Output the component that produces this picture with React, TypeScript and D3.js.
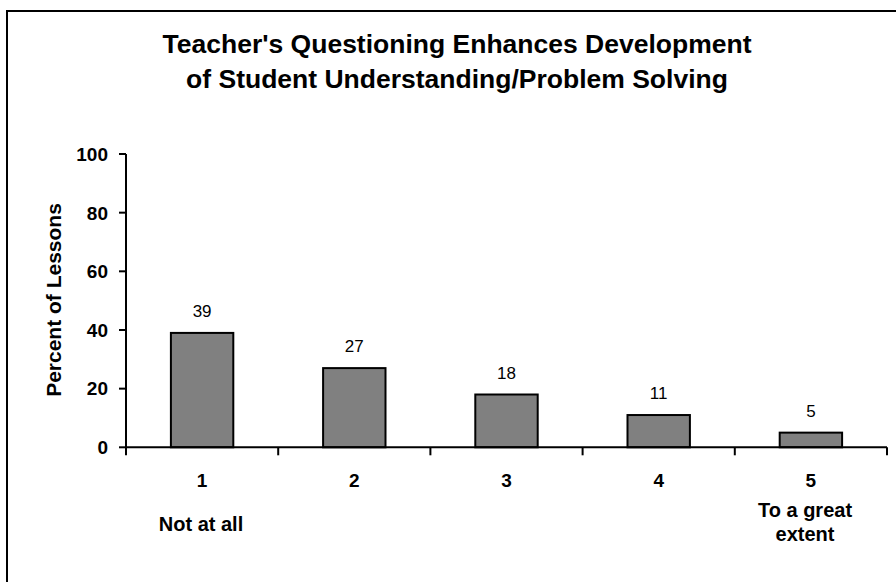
import React from "react";
import * as d3 from "d3";

const categories = ["1", "2", "3", "4", "5"];
const values = [39, 27, 18, 11, 5];
const yTicks = [0, 20, 40, 60, 80, 100];
const titleLines = [
  "Teacher's Questioning Enhances Development",
  "of Student Understanding/Problem Solving",
];
const yAxisLabel = "Percent of Lessons";
const leftNote = ["Not at all"];
const rightNote = ["To a great", "extent"];

export default function App() {
  const W = 896;
  const H = 582;
  const x0 = 126, x1 = 887;
  const yTop = 154, yBottom = 447.3;
  const font = "'Liberation Sans', Arial, sans-serif";

  const x = d3.scaleBand<string>().domain(categories).range([x0, x1]).paddingInner(0.59).paddingOuter(0.295);
  const xb = d3.scaleBand<string>().domain(categories).range([x0, x1]);
  const y = d3.scaleLinear().domain([0, 100]).range([yBottom, yTop]);

  const tickEdges = categories.map((c) => (xb(c) as number) + xb.bandwidth());

  return (
    <svg width={W} height={H} style={{ position: "absolute", left: 0, top: 0, background: "#fff" }}>
      <rect x={0} y={0} width={W} height={H} fill="#fff" />
      <rect x={7} y={11} width={W + 20} height={H + 20} fill="none" stroke="#000" strokeWidth={2} />
      {titleLines.map((t, i) => (
        <text key={i} x={457} y={53 + i * 35} textAnchor="middle" fontFamily={font} fontWeight="bold" fontSize={26.5}>
          {t}
        </text>
      ))}
      {/* y axis */}
      <line x1={x0} x2={x0} y1={yTop} y2={yBottom + 8} stroke="#000" strokeWidth={2} />
      {yTicks.map((t) => (
        <g key={t}>
          <line x1={x0 - 7} x2={x0} y1={y(t)} y2={y(t)} stroke="#000" strokeWidth={2} />
          <text x={x0 - 18} y={y(t)} dy="0.36em" textAnchor="end" fontFamily={font} fontWeight="bold" fontSize={19}>
            {t}
          </text>
        </g>
      ))}
      <text
        transform={`translate(61,300) rotate(-90)`}
        textAnchor="middle"
        fontFamily={font}
        fontWeight="bold"
        fontSize={21}
      >
        {yAxisLabel}
      </text>
      {/* bars */}
      {categories.map((c, i) => (
        <g key={c}>
          <rect
            x={x(c)}
            y={y(values[i])}
            width={x.bandwidth()}
            height={yBottom - y(values[i])}
            fill="#808080"
            stroke="#000"
            strokeWidth={2}
          />
          <text
            x={(x(c) as number) + x.bandwidth() / 2}
            y={y(values[i]) - 16}
            textAnchor="middle"
            fontFamily={font}
            fontSize={17}
          >
            {values[i]}
          </text>
          <text
            x={(xb(c) as number) + xb.bandwidth() / 2}
            y={487}
            textAnchor="middle"
            fontFamily={font}
            fontWeight="bold"
            fontSize={19}
          >
            {c}
          </text>
        </g>
      ))}
      {/* x axis */}
      <line x1={x0} x2={x1} y1={yBottom} y2={yBottom} stroke="#000" strokeWidth={2} />
      {tickEdges.map((e, i) => (
        <line key={i} x1={e} x2={e} y1={yBottom} y2={yBottom + 8} stroke="#000" strokeWidth={2} />
      ))}
      {leftNote.map((t, i) => (
        <text key={i} x={201} y={531 + i * 23} textAnchor="middle" fontFamily={font} fontWeight="bold" fontSize={20}>
          {t}
        </text>
      ))}
      {rightNote.map((t, i) => (
        <text key={i} x={805} y={517 + i * 23.5} textAnchor="middle" fontFamily={font} fontWeight="bold" fontSize={20}>
          {t}
        </text>
      ))}
    </svg>
  );
}
